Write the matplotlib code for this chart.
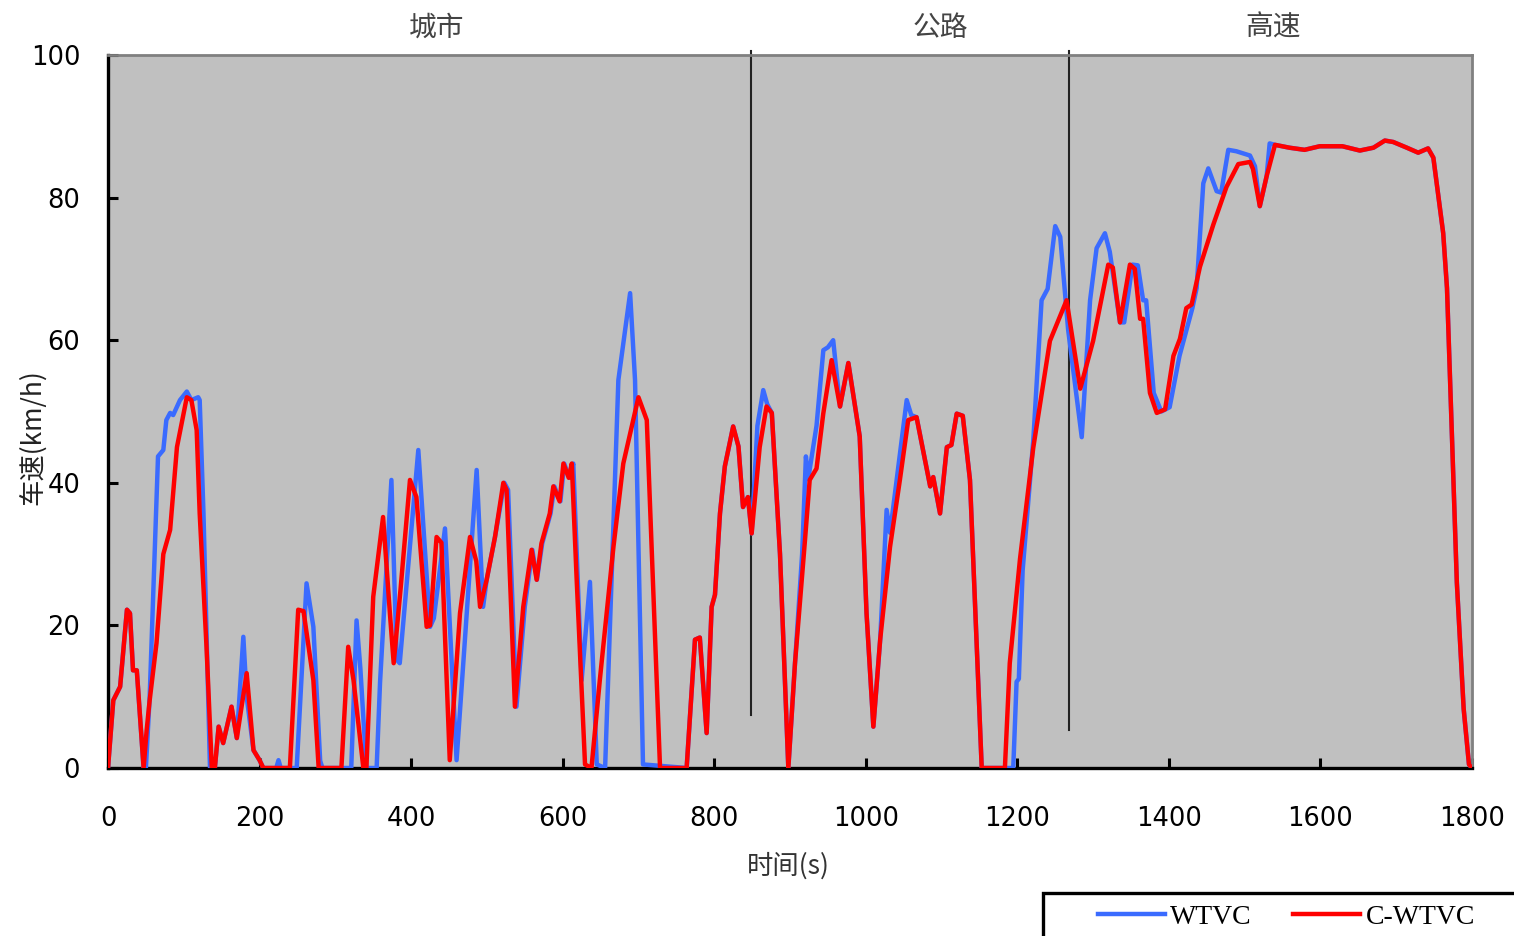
import matplotlib
matplotlib.use("Agg")
import matplotlib.pyplot as plt
from matplotlib.patches import Rectangle

# C-WTVC speed trace (s, km/h)
c_wtvc_t = [0, 7, 16, 25, 29, 33, 38, 47, 51, 55, 64, 73, 82, 91, 104, 110, 117, 121, 130,
            137, 141, 146, 152, 163, 170, 183, 192, 200, 205, 240, 251, 258, 271, 278, 308,
            317, 324, 337, 341, 350, 363, 372, 377, 386, 398.5, 407, 420.5, 425, 433.6, 440,
            451, 464.5, 477.7, 486, 491, 499.7, 510.7, 521.7, 526, 537, 548, 559, 565.7, 572,
            583, 587.7, 596, 601, 608, 612, 618.5, 629.5, 638, 649, 667, 680, 700, 711, 728.5,
            763.6, 774.6, 781, 790, 796.6, 801, 807.6, 814, 825, 832, 838, 844.5, 849.4, 860,
            869, 876, 886.8, 897.8, 906.6, 919.8, 926, 935, 943.9, 954.9, 966, 977, 992, 1001,
            1010, 1019, 1032, 1045, 1056, 1067, 1085, 1089, 1098, 1107, 1113, 1120, 1128,
            1137.5, 1153, 1183.6, 1190, 1203.5, 1221, 1243, 1265, 1283, 1300, 1320, 1326,
            1335.5, 1348.6, 1355, 1362, 1366, 1375, 1384, 1395, 1406, 1414.6, 1423, 1430,
            1441, 1458.6, 1476, 1491.6, 1507, 1511, 1520, 1529, 1540, 1559, 1579, 1599, 1629,
            1652, 1670, 1685, 1696, 1714, 1729, 1742, 1749, 1762, 1767, 1780, 1789, 1796, 1800]
c_wtvc_v = [0, 9.5, 11.4, 22.2, 21.7, 13.7, 13.7, 0, 5.3, 9.5, 17.5, 30, 33.4, 45, 52, 51.6, 47.4, 35.7, 17,
            0, 0, 5.8, 3.5, 8.6, 4.2, 13.3, 2.5, 1.1, 0, 0, 22.2, 22, 12.3, 0, 0,
            17, 12.3, 0, 0, 24, 35.2, 21.7, 14.7, 25, 40.4, 38, 19.8, 20, 32.4, 31.6,
            1.1, 21.7, 32.4, 29, 22.6, 26.4, 32.4, 40, 39, 8.6, 22.6, 30.6, 26.4, 31.5,
            35.7, 39.5, 37.4, 42.7, 40.7, 42.7, 26.4, 0.5, 0, 12.3, 31, 42.7, 52, 48.8, 0,
            0, 18, 18.3, 4.9, 22.6, 24.3, 35.7, 42.3, 47.9, 45.1, 36.6, 38, 32.9, 45,
            50.7, 49.8, 30, 0, 14.7, 32, 40.4, 42, 49.7, 57.2, 50.7, 56.8, 46.5, 21.7,
            5.8, 18, 31, 40.4, 48.8, 49.2, 39.5, 40.8, 35.7, 45, 45.3, 49.7, 49.4,
            40.4, 0, 0, 14.7, 29.3, 44.9, 59.9, 65.6, 53.2, 59.9, 70.6, 70.2,
            62.5, 70.6, 70, 63, 63, 52.6, 49.8, 50.3, 57.8, 60.2, 64.5, 65,
            70.3, 76.2, 81.5, 84.7, 85, 84, 78.8, 83, 87.4, 87, 86.7, 87.2, 87.2,
            86.6, 87, 88, 87.8, 87, 86.3, 86.9, 85.6, 75, 67.3, 26, 8.3, 0.5, 0]

# WTVC speed trace (s, km/h)
wtvc_t = [0, 7, 16, 25, 29, 33, 38, 47, 50, 55, 66, 73, 77, 82, 86, 95, 104, 110, 119, 121, 126,
          134.6, 141, 146, 152, 163, 170, 178.6, 183, 192, 200, 205, 222, 225, 228, 249, 262,
          271, 280, 283, 321, 328, 333, 341, 354.5, 359, 374, 381, 385, 409.5, 425, 430,
          444.7, 460, 486.5, 495, 499.7, 510.7, 523, 528, 539, 550, 560, 566, 573, 584, 589,
          597, 602, 609, 614, 625, 636, 645, 656, 673.5, 689, 695.5, 706, 763.6, 774.6, 781,
          790, 796.6, 801, 807.6, 814, 825, 832, 838, 844.5, 849.4, 857, 864.7, 870, 876,
          886.8, 897.8, 906.6, 916, 921, 924, 935, 944, 950, 957, 966, 977, 992, 1001, 1010,
          1019, 1027.5, 1032, 1045, 1054, 1060, 1067, 1085, 1089, 1098, 1107, 1113, 1120,
          1128, 1137.5, 1153, 1194.6, 1199, 1202, 1207, 1221, 1232, 1240, 1250, 1256.6, 1267,
          1285, 1296, 1304.6, 1315.6, 1322, 1335.5, 1341, 1352, 1359, 1366, 1370, 1380, 1390,
          1401, 1414, 1431, 1436.6, 1445.4, 1452, 1463, 1469, 1478.4, 1489, 1507, 1513.6,
          1520, 1529, 1533, 1540, 1559, 1579, 1599, 1629, 1652, 1670, 1685, 1696, 1714,
          1729, 1742, 1749, 1762, 1767, 1780, 1789, 1796, 1800]
wtvc_v = [0, 9.5, 11.4, 22.2, 21.7, 13.7, 13.7, 0, 0, 10, 43.7, 44.6, 48.8, 49.8, 49.5, 51.6, 52.8, 51.6, 52, 51.6, 35.7,
          0, 0, 5.8, 3.5, 8.6, 4.2, 18.4, 10, 2.5, 1.1, 0, 0, 1.1, 0, 0, 25.9,
          19.8, 1, 0, 0, 20.7, 14, 0, 0, 12, 40.4, 15.2, 14.7, 44.6, 19.8, 21,
          33.6, 1.1, 41.8, 22.6, 26.4, 32.4, 40, 39, 8.6, 22.6, 30.6, 26.4, 31.5, 35.7, 39.5,
          37.4, 42.7, 40.7, 42.7, 12.3, 26.1, 0.5, 0, 54.4, 66.6, 54.4, 0.5, 0, 18, 18.3,
          4.9, 22.6, 24.3, 35.7, 42.3, 47.9, 45.1, 36.6, 38, 32.9, 48, 53, 51, 49.8,
          30, 0, 14.7, 30, 43.7, 40.5, 48, 58.6, 59, 60, 50.7, 56.8, 46.5, 21.7, 5.8,
          18, 36.2, 33, 44, 51.6, 49.5, 49.2, 39.5, 40.8, 35.7, 45, 45.3, 49.7,
          49.4, 40.4, 0, 0, 12.1, 12.5, 27.7, 45.9, 65.6, 67.2, 76, 74.5, 61.5,
          46.4, 65.6, 72.9, 75, 72.4, 62.5, 62.5, 70.6, 70.5, 65.6, 65.6, 52.6, 50,
          50.6, 57.8, 64.5, 67.3, 82, 84.1, 80.9, 80.7, 86.7, 86.5, 85.9, 84.4,
          78.8, 83, 87.6, 87.4, 87, 86.7, 87.2, 87.2, 86.6, 87, 88, 87.8, 87,
          86.3, 86.9, 85.6, 75, 67.3, 26, 8.3, 0.5, 0]

# segment boundaries and labels
seg_bounds = [848.5, 1268]
seg_line_bottom = [7.5, 5.3]
seg_names = ["城市", "公路", "高速"]
seg_label_x = [434, 1098, 1537]

x_ticks = [0, 200, 400, 600, 800, 1000, 1200, 1400, 1600, 1800]
y_ticks = [0, 20, 40, 60, 80, 100]

cjk = ["Noto Sans CJK SC", "DejaVu Sans"]
plt.rcParams["font.family"] = ["DejaVu Sans"]

fig = plt.figure(figsize=(15.14, 9.36), dpi=100)
ax = fig.add_axes([108 / 1514, 1 - 768 / 936, 1364 / 1514, 713 / 936])
ax.set_facecolor("#c0c0c0")

l_w, = ax.plot(wtvc_t, wtvc_v, color="#3a6bff", lw=3.2, label="WTVC", zorder=3,
               solid_joinstyle="round")
l_c, = ax.plot(c_wtvc_t, c_wtvc_v, color="#ff0000", lw=3.2, label="C-WTVC", zorder=4,
               solid_joinstyle="round")

for xb, yb in zip(seg_bounds, seg_line_bottom):
    ax.plot([xb, xb], [yb, 100.6], color="#222222", lw=1.5, zorder=2, clip_on=False)

for name, xl in zip(seg_names, seg_label_x):
    ax.text(xl, 1.038, name, transform=ax.get_xaxis_transform(), ha="center", va="center",
            fontsize=20, color="#444444", family=cjk)

ax.set_xlim(0, 1800)
ax.set_ylim(0, 100)
ax.set_xticks(x_ticks)
ax.set_yticks(y_ticks)
ax.tick_params(direction="in", length=7, width=2.2, labelsize=18.5, colors="black")
ax.tick_params(axis="x", pad=27)
ax.tick_params(axis="y", pad=20)

for s in ["left", "bottom"]:
    ax.spines[s].set_color("black")
    ax.spines[s].set_linewidth(2.4)
for s in ["top", "right"]:
    ax.spines[s].set_color("#808080")
    ax.spines[s].set_linewidth(2)

ax.set_xlabel("时间(s)", family=cjk, fontsize=19, color="#333333")
ax.xaxis.set_label_coords((788 - 108) / 1364, (768 - 852) / 713)
ax.set_ylabel("车速(km/h)", family=cjk, fontsize=19, color="#222222")
ax.yaxis.set_label_coords((46 - 108) / 1364, (768 - 437) / 713)

# legend box (partly outside the figure, as in the source)
fig.add_artist(Rectangle((1043 / 1514, 1 - 945 / 936), 500 / 1514, 52 / 936,
                         transform=fig.transFigure, fill=False, edgecolor="black", lw=2.4))
fig.legend(handles=[l_w, l_c], loc="center left", bbox_to_anchor=(1084 / 1514, 1 - 917 / 936),
           ncol=2, frameon=False, borderpad=0, handlelength=2.4, handletextpad=0.2,
           columnspacing=1.5, prop={"family": "Liberation Serif", "size": 20})

fig.savefig("out.png", dpi=100)
